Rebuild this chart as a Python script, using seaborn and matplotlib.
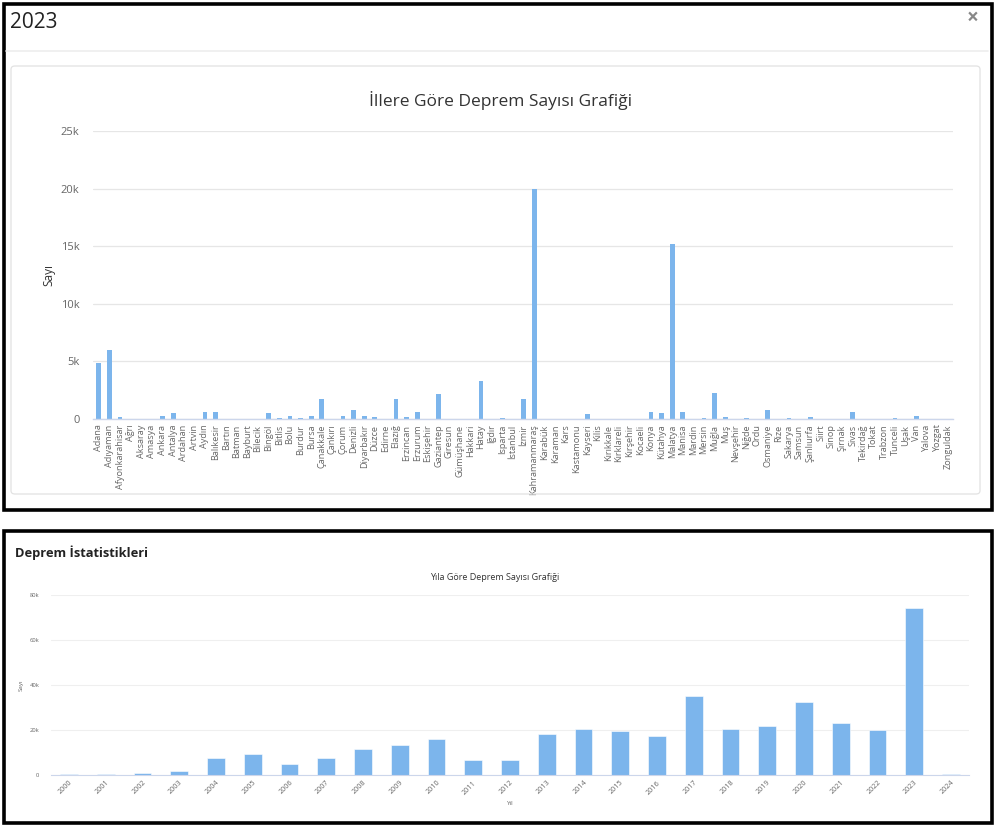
import matplotlib
matplotlib.use("Agg")
import matplotlib.pyplot as plt
from matplotlib.patches import Rectangle, FancyBboxPatch
from matplotlib.lines import Line2D
from matplotlib.ticker import FuncFormatter, MultipleLocator
import seaborn as sns
import pandas as pd

# ---------------- data ----------------
provinces = ["Adana", "Adıyaman", "Afyonkarahisar", "Ağrı", "Aksaray", "Amasya", "Ankara", "Antalya",
             "Ardahan", "Artvin", "Aydın", "Balıkesir", "Bartın", "Batman", "Bayburt", "Bilecik",
             "Bingöl", "Bitlis", "Bolu", "Burdur", "Bursa", "Çanakkale", "Çankırı", "Çorum",
             "Denizli", "Diyarbakır", "Düzce", "Edirne", "Elazığ", "Erzincan", "Erzurum", "Eskişehir",
             "Gaziantep", "Giresun", "Gümüşhane", "Hakkari", "Hatay", "Iğdır", "Isparta", "İstanbul",
             "İzmir", "Kahramanmaraş", "Karabük", "Karaman", "Kars", "Kastamonu", "Kayseri", "Kilis",
             "Kırıkkale", "Kırklareli", "Kırşehir", "Kocaeli", "Konya", "Kütahya", "Malatya", "Manisa",
             "Mardin", "Mersin", "Muğla", "Muş", "Nevşehir", "Niğde", "Ordu", "Osmaniye",
             "Rize", "Sakarya", "Samsun", "Şanlıurfa", "Siirt", "Sinop", "Şırnak", "Sivas",
             "Tekirdağ", "Tokat", "Trabzon", "Tunceli", "Uşak", "Van", "Yalova", "Yozgat", "Zonguldak"]
province_counts = [4850, 5950, 150, 0, 0, 0, 300, 500,
                   0, 0, 600, 600, 0, 0, 0, 0,
                   500, 100, 250, 100, 300, 1700, 0, 250,
                   800, 300, 150, 0, 1700, 150, 600, 0,
                   2200, 0, 0, 0, 3300, 0, 100, 0,
                   1700, 20000, 0, 0, 0, 0, 400, 0,
                   0, 0, 0, 0, 600, 500, 15200, 600,
                   0, 100, 2250, 200, 0, 100, 0, 800,
                   0, 100, 0, 150, 0, 0, 0, 600,
                   0, 0, 0, 100, 0, 250, 0, 0, 0]

years = [str(y) for y in range(2000, 2025)]
year_counts = [500, 500, 1000, 2000, 7400, 9200, 4700, 7600, 11600, 13500, 16100, 6700,
               6500, 18400, 20400, 19400, 17200, 35100, 20300, 21600, 32600, 23000, 20000, 74200, 600]

# ---------------- style ----------------
sns.set_theme(style="white")
plt.rcParams['font.family'] = ['Open Sans', 'DejaVu Sans']

BAR = "#7cb5ec"
GRID = "#e6e6e6"
AXIS = "#ccd6eb"
TXT = "#666666"

W, H = 995, 826
fig = plt.figure(figsize=(W / 100, H / 100), dpi=100)
fig.patch.set_facecolor("white")


def fx(x):
    return x / W


def fy(y):
    return (H - y) / H


def kfmt(v, pos):
    if v == 0:
        return "0"
    return f"{int(round(v / 1000))}k"


# ---------------- frames ----------------
fig.patches.append(Rectangle((fx(4), fy(510)), fx(988), 506 / H, transform=fig.transFigure,
                             fill=False, edgecolor="black", linewidth=2.6, zorder=0))
fig.patches.append(Rectangle((fx(4), fy(823)), fx(988), 292 / H, transform=fig.transFigure,
                             fill=False, edgecolor="black", linewidth=2.6, zorder=0))
fig.lines.append(Line2D([fx(6), fx(988)], [fy(51), fy(51)], transform=fig.transFigure,
                        color="#eeeeee", linewidth=1.2))
fig.patches.append(FancyBboxPatch((fx(11), fy(494)), fx(969), 428 / H,
                                  boxstyle="round,pad=0,rounding_size=0.004",
                                  transform=fig.transFigure, fill=False,
                                  edgecolor="#e2e2e2", linewidth=0.9, zorder=0))

fig.text(fx(10), fy(22), "2023", fontsize=15, color="#222222", ha="left", va="center")
fig.text(fx(973), fy(18), "×", fontsize=15, color="#888888", ha="center", va="center",
         fontweight="bold")
fig.text(fx(15), fy(553), "Deprem İstatistikleri", fontsize=9.3, fontweight="bold",
         color="#222222", ha="left", va="center")

# ---------------- top chart ----------------
ax1 = fig.add_axes([fx(93.5), fy(419), 860 / W, 288 / H])
df1 = pd.DataFrame({"İl": provinces, "Sayı": province_counts})
sns.barplot(data=df1, x="İl", y="Sayı", ax=ax1, color=BAR, saturation=1, width=0.45,
            linewidth=0)
ax1.set_ylim(0, 25000)
ax1.set_xlim(-0.5, len(provinces) - 0.5)
ax1.yaxis.set_major_locator(MultipleLocator(5000))
ax1.yaxis.set_major_formatter(FuncFormatter(kfmt))
ax1.grid(axis="y", color=GRID, linewidth=0.9)
ax1.set_axisbelow(True)
for s in ["top", "right", "left"]:
    ax1.spines[s].set_visible(False)
ax1.spines["bottom"].set_color(AXIS)
ax1.spines["bottom"].set_linewidth(1)
ax1.tick_params(axis="y", length=0, labelsize=8, labelcolor=TXT, pad=10)
ax1.tick_params(axis="x", length=0, labelsize=6.6, labelcolor=TXT, pad=4)
plt.setp(ax1.get_xticklabels(), rotation=90, ha="center", va="top")
ax1.set_xlabel("")
ax1.set_ylabel("Sayı", fontsize=8.5, color="#333333", labelpad=4)
ax1.set_facecolor("none")
fig.text(fx(501), fy(101), "İllere Göre Deprem Sayısı Grafiği", fontsize=12.5,
         color="#333333", ha="center", va="center")

# ---------------- bottom chart ----------------
ax2 = fig.add_axes([fx(50.6), fy(775), 918.8 / W, 180 / H])
df2 = pd.DataFrame({"Yıl": years, "Sayı": year_counts})
sns.barplot(data=df2, x="Yıl", y="Sayı", ax=ax2, color=BAR, saturation=1, width=0.48,
            edgecolor="white", linewidth=0.4)
ax2.set_ylim(0, 80000)
ax2.set_xlim(-0.5, len(years) - 0.5)
ax2.yaxis.set_major_locator(MultipleLocator(20000))
ax2.yaxis.set_major_formatter(FuncFormatter(kfmt))
ax2.grid(axis="y", color="#efefef", linewidth=0.8)
ax2.set_axisbelow(True)
for s in ["top", "right", "left"]:
    ax2.spines[s].set_visible(False)
ax2.spines["bottom"].set_color(AXIS)
ax2.spines["bottom"].set_linewidth(0.8)
ax2.tick_params(axis="y", length=0, labelsize=4.2, labelcolor=TXT, pad=8)
ax2.tick_params(axis="x", length=0, labelsize=5.2, labelcolor=TXT, pad=3)
plt.setp(ax2.get_xticklabels(), rotation=45, ha="right", va="top", rotation_mode="anchor")
ax2.set_xlabel("Yıl", fontsize=4.5, color=TXT, labelpad=0)
ax2.xaxis.set_label_coords((510 - 50.6) / 918.8, -(801 - 775) / 180)
ax2.set_ylabel("Sayı", fontsize=4.5, color=TXT, labelpad=4)
ax2.set_facecolor("none")
fig.text(fx(495), fy(578), "Yıla Göre Deprem Sayısı Grafiği", fontsize=6.5,
         color="#333333", ha="center", va="center")

fig.savefig("out.png", dpi=100, facecolor="white")
